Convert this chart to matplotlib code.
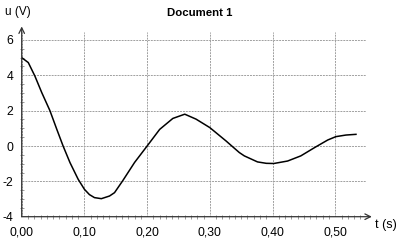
import numpy as np
import matplotlib
matplotlib.use("Agg")
import matplotlib.pyplot as plt
from matplotlib.ticker import MultipleLocator, FixedLocator, FixedFormatter

# values
t_s = [0.000, 0.0105, 0.021, 0.032, 0.045, 0.056, 0.066, 0.077, 0.090, 0.100,
       0.108, 0.116, 0.127, 0.140, 0.148, 0.161, 0.180, 0.200, 0.220, 0.241,
       0.260, 0.278, 0.300, 0.326, 0.335, 0.347, 0.355, 0.376, 0.390, 0.402,
       0.424, 0.445, 0.467, 0.488, 0.501, 0.517, 0.533]
u_V = [5.00, 4.72, 3.96, 3.02, 2.00, 0.94, 0.00, -0.94, -1.88, -2.45,
       -2.75, -2.92, -2.98, -2.83, -2.64, -1.97, -0.93, 0.00, 0.94, 1.56,
       1.80, 1.52, 1.04, 0.28, 0.00, -0.37, -0.56, -0.90, -0.98, -0.99,
       -0.85, -0.56, -0.09, 0.34, 0.53, 0.62, 0.66]

xticks = [0.0, 0.1, 0.2, 0.3, 0.4, 0.5]
xtick_labels = ['0,00', '0,10', '0,20', '0,30', '0,40', '0,50']
yticks = [-4, -2, 0, 2, 4, 6]
ytick_labels = ['-4', '-2', '0', '2', '4', '6']

plt.rcParams['font.family'] = ['Liberation Sans', 'DejaVu Sans']

W, H = 401, 240
fig = plt.figure(figsize=(W / 100, H / 100), dpi=100)
left, right, bottom, top = 21.7, 366, 216.7, 32
ax = fig.add_axes([left / W, 1 - bottom / H, (right - left) / W, (bottom - top) / H])

ax.plot(t_s, u_V, color='black', linewidth=1.1, solid_joinstyle='round')

ax.set_xlim(0, 0.549)
ax.set_ylim(-4, 6.45)

ax.xaxis.set_major_locator(FixedLocator(xticks))
ax.xaxis.set_major_formatter(FixedFormatter(xtick_labels))
ax.yaxis.set_major_locator(FixedLocator(yticks))
ax.yaxis.set_major_formatter(FixedFormatter(ytick_labels))
ax.xaxis.set_minor_locator(MultipleLocator(0.01))
ax.yaxis.set_minor_locator(MultipleLocator(0.5))

ax.tick_params(which='major', length=0, labelsize=8.8, colors='black')
ax.tick_params(axis='x', which='major', pad=7)
ax.tick_params(axis='y', which='major', pad=6)
ax.tick_params(which='minor', direction='inout', length=3, width=0.6, color='#888888')

ax.grid(True, which='major', color='#a0a0a0', linewidth=0.7, linestyle=(0, (2, 1)))

for s in ax.spines.values():
    s.set_visible(False)

# axes with arrows
ax.annotate('', xy=(1.017, 0), xytext=(0, 0), xycoords='axes fraction',
            arrowprops=dict(arrowstyle='->', color='#333333', lw=0.9, shrinkA=0, shrinkB=0))
ax.annotate('', xy=(0, 1.03), xytext=(0, 0), xycoords='axes fraction',
            arrowprops=dict(arrowstyle='->', color='#333333', lw=0.9, shrinkA=0, shrinkB=0))

fig.text(200 / W, 1 - 13 / H, 'Document 1', fontsize=8.2, fontweight='bold',
         ha='center', va='center')
fig.text(5 / W, 1 - 12 / H, 'u (V)', fontsize=8.5, ha='left', va='center')
fig.text(375 / W, 1 - 225 / H, 't (s)', fontsize=9, ha='left', va='center')

fig.savefig('out.png', dpi=100)
